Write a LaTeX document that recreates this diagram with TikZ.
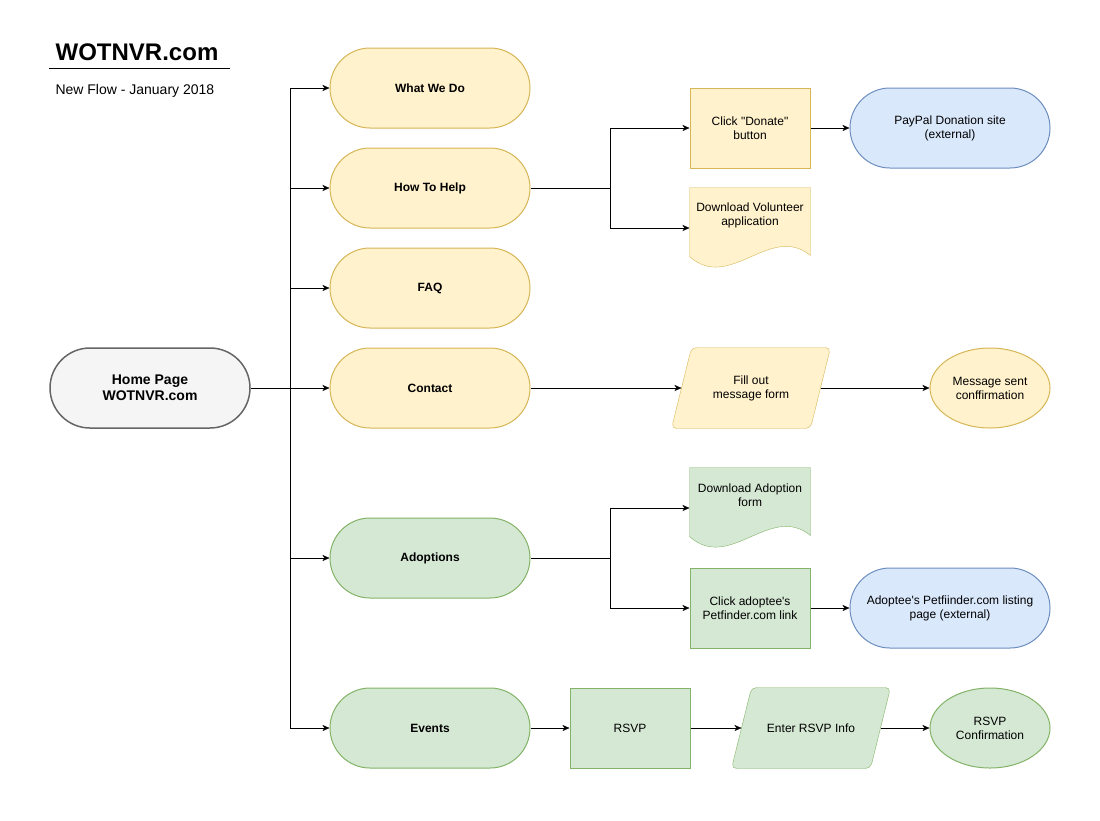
\documentclass[tikz,border=0pt]{standalone}
\usepackage{fontspec}
\setmainfont{Liberation Sans}[Ligatures=TeXOff]
\usepackage{xcolor}
\usepackage{tikz}
\usetikzlibrary{arrows.meta,shapes}

\definecolor{yelfill}{HTML}{FFF2CC}
\definecolor{yeldraw}{HTML}{D6B656}
\definecolor{grnfill}{HTML}{D5E8D4}
\definecolor{grndraw}{HTML}{82B366}
\definecolor{bluefill}{HTML}{DAE8FC}
\definecolor{bluedraw}{HTML}{6C8EBF}
\definecolor{grayfill}{HTML}{F5F5F5}
\definecolor{graydraw}{HTML}{666666}

\pgfdeclarelayer{bg}
\pgfsetlayers{bg,main}

% wavy document outline round an empty node
\newcommand{\docshape}[2]{\filldraw[#2] (#1.north west) -- (#1.north east) -- ([yshift=13pt]#1.south east)
  .. controls ([xshift=-40pt,yshift=46pt]#1.south east) and ([xshift=40pt,yshift=-24pt]#1.south west) .. ([yshift=12pt]#1.south west) -- cycle;}
% slanted input box round a node
\newcommand{\parashape}[2]{\filldraw[#2, rounded corners=5pt] ([xshift=-10pt]#1.south west) -- ([xshift=10pt]#1.north west)
  -- ([xshift=10pt]#1.north east) -- ([xshift=-10pt]#1.south east) -- cycle;}

\begin{document}
\begin{tikzpicture}[x=1pt, y=-1pt, line width=1pt,
    every node/.style={font=\fontsize{12}{14}\selectfont, align=center},
    yel/.style={fill=yelfill, draw=yeldraw},
    grn/.style={fill=grnfill, draw=grndraw},
    blu/.style={fill=bluefill, draw=bluedraw},
    gry/.style={fill=grayfill, draw=graydraw, line width=1.5pt},
    page/.style={rectangle, rounded corners=40pt, minimum width=200pt, minimum height=80pt},
    menu/.style={page, font=\fontsize{12}{14}\selectfont\bfseries},
    box/.style={rectangle, minimum width=120pt, minimum height=80pt},
    slant/.style={rectangle, minimum width=138pt, minimum height=80pt},
    oval/.style={ellipse, minimum width=120pt, minimum height=80pt, inner sep=0pt},
    link/.style={-{Stealth[length=7pt,width=6pt,inset=2pt]}}]
    \useasboundingbox (0,0) rectangle (1100,820);

    % title
    \node[font=\fontsize{24}{28}\selectfont\bfseries] (title) at (137,52) {WOTNVR.com};
    \draw (49,68) -- (230,68);
    \node[anchor=west, inner sep=0pt, font=\fontsize{14}{16}\selectfont] (sub) at (55,91) {New Flow - January 2018};

    % main column
    \node[menu, gry, font=\fontsize{14}{16}\selectfont\bfseries] (home) at (150,388) {Home Page\\WOTNVR.com};
    \node[menu, yel] (what) at (430,88) {What We Do};
    \node[menu, yel] (help) at (430,188) {How To Help};
    \node[menu, yel] (faq) at (430,288) {FAQ};
    \node[menu, yel] (contact) at (430,388) {Contact};
    \node[menu, grn] (adopt) at (430,558) {Adoptions};
    \node[menu, grn] (events) at (430,728) {Events};

    % second level
    \node[box, yel] (donate) at (750,128) {Click "Donate"\\button};
    \node[page, blu] (paypal) at (950,128) {PayPal Donation site\\(external)};
    \node[box] (vol) at (750,228) {};
    \node[slant] (form) at (751,388) {Fill out\\message form};
    \node[oval, yel] (sent) at (990,388) {Message sent\\conffirmation};
    \node[box] (adoc) at (750,508) {};
    \node[box, grn] (click) at (750,608) {Click adoptee's\\Petfinder.com link};
    \node[page, blu] (petsite) at (950,608) {Adoptee's Petfiinder.com listing\\page (external)};
    \node[box, grn] (rsvp) at (630,728) {RSVP};
    \node[slant] (info) at (811,728) {Enter RSVP Info};
    \node[oval, grn] (conf) at (990,728) {RSVP\\Confirmation};

    \begin{pgfonlayer}{bg}
        \docshape{vol}{yel}
        \docshape{adoc}{grn}
        \parashape{form}{yel}
        \parashape{info}{grn}
    \end{pgfonlayer}
    \node (voltext) at (750,215) {Download Volunteer\\application};
    \node (adoctext) at (750,495) {Download Adoption\\form};

    % connectors
    \coordinate (trunk) at (290,388);
    \draw[link] (home) -- (contact);
    \draw (trunk |- what) -- (trunk |- events);
    \foreach \n in {what,help,faq,adopt,events}
        \draw[link] (trunk |- \n) -- (\n.west);

    \coordinate (hbr) at (610,188);
    \draw (help.east) -- (hbr);
    \draw[link] (hbr) |- (donate.west);
    \draw[link] (hbr) |- (vol.west);
    \draw[link] (donate) -- (paypal);

    \draw[link] (contact) -- (form);
    \draw[link] (form) -- (sent);

    \coordinate (abr) at (610,558);
    \draw (adopt.east) -- (abr);
    \draw[link] (abr) |- (adoc.west);
    \draw[link] (abr) |- (click.west);
    \draw[link] (click) -- (petsite);

    \draw[link] (events) -- (rsvp);
    \draw[link] (rsvp) -- (info);
    \draw[link] (info) -- (conf);
\end{tikzpicture}
\end{document}
